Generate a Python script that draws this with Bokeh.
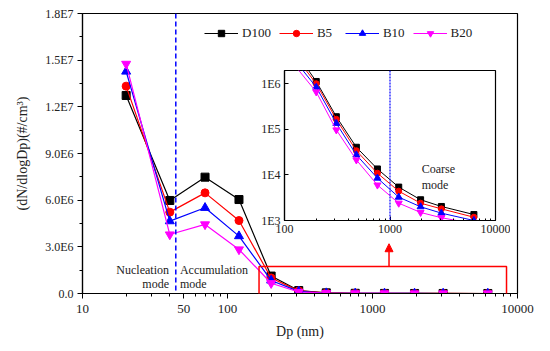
from bokeh.plotting import figure
from bokeh.layouts import column
from bokeh.models import (FixedTicker, Span, BoxAnnotation, Arrow, NormalHead,
                          Label, GridBox)
from bokeh.embed import file_html
from bokeh.resources import INLINE

# ---------------- data ----------------
dp = [20, 40, 70, 120, 200, 310, 480, 760, 1210, 1950, 3070, 6240]
d100 = [1.273e7, 5.98e6, 7.48e6, 6.04e6, 1.12e6, 1.89e5, 4.04e4, 1.35e4, 5.4e3, 2.85e3, 2.03e3, 1.35e3]
b5 = [1.333e7, 5.23e6, 6.47e6, 4.69e6, 1.0e6, 1.66e5, 3.4e4, 1.09e4, 4.4e3, 2.4e3, 1.8e3, 1.18e3]
b10 = [1.427e7, 4.65e6, 5.51e6, 3.69e6, 8.4e5, 1.35e5, 2.75e4, 8.5e3, 3.25e3, 2.0e3, 1.45e3, 1.0e3]
b20 = [1.476e7, 3.79e6, 4.44e6, 2.83e6, 6.6e5, 9.7e4, 2.13e4, 6.0e3, 2.4e3, 1.5e3, 1.15e3, 8.5e2]

names = ["D100", "B5", "B10", "B20"]
values = [d100, b5, b10, b20]
colors = ["#000000", "#ff0000", "#0000ff", "#ff00ff"]
markers = ["square", "circle", "triangle", "inverted_triangle"]
msizes = [8, 8, 9, 9]
inset_msizes = [6, 6, 7, 7]

x_ticks = [10, 50, 100, 1000, 10000]
x_tick_labels = ["10", "50", "100", "1000", "10000"]
y_ticks = [0, 3000000, 6000000, 9000000, 12000000, 15000000, 18000000]
y_tick_labels = ["0.0", "3.0E6", "6.0E6", "9.0E6", "1.2E7", "1.5E7", "1.8E7"]
y_minor = [1500000, 4500000, 7500000, 10500000, 13500000, 16500000]
x_minor = [m * 10 ** e for e in (1, 2, 3) for m in range(2, 10)]

inset_x_ticks = [100, 1000, 10000]
inset_x_labels = ["100", "1000", "10000"]
inset_x_minor = [m * 10 ** e for e in (2, 3) for m in range(2, 10)]
inset_y_ticks = [1000, 10000, 100000, 1000000]
inset_y_labels = ["1E3", "1E4", "1E5", "1E6"]

mode_boundary = 44
coarse_boundary = 1000

FONT = "Liberation Serif"
TXT = "#222222"

# ---------------- main figure ----------------
p = figure(width=550, height=351, x_axis_type="log", x_range=(10, 10000),
           y_range=(0, 1.8e7), output_backend="svg", toolbar_location=None,
           min_border_left=82, min_border_right=33, min_border_top=13,
           min_border_bottom=58)
p.grid.visible = False
p.outline_line_color = "black"
p.outline_line_width = 1.2

p.xaxis.ticker = FixedTicker(ticks=x_ticks, minor_ticks=x_minor)
p.xaxis.major_label_overrides = dict(zip(x_ticks, x_tick_labels))
p.yaxis.ticker = FixedTicker(ticks=y_ticks, minor_ticks=y_minor)
p.yaxis.major_label_overrides = dict(zip(y_ticks, y_tick_labels))

for ax in (p.xaxis, p.yaxis):
    ax.axis_line_color = "black"
    ax.axis_line_width = 1.2
    ax.major_tick_line_color = "black"
    ax.minor_tick_line_color = "black"
    ax.major_tick_in = 0
    ax.major_tick_out = 5
    ax.minor_tick_in = 0
    ax.minor_tick_out = 3
    ax.major_label_text_font = FONT
    ax.major_label_text_color = TXT
    ax.axis_label_text_font = FONT
    ax.axis_label_text_font_style = "normal"
    ax.axis_label_text_color = TXT
    ax.axis_label_text_font_size = "14px"

p.xaxis.major_label_text_font_size = "13px"
p.yaxis.major_label_text_font_size = "12px"
p.xaxis.major_label_standoff = 6
p.yaxis.major_label_standoff = 4
p.xaxis.axis_label = "Dp (nm)"
p.yaxis.axis_label = "(dN/dlogDp)(#/cm\u00b3)"
p.xaxis.axis_label_standoff = 8
p.yaxis.axis_label_standoff = 12

for name, vals, col, mk, ms in zip(names, values, colors, markers, msizes):
    p.line(dp, vals, line_color=col, line_width=1.2, legend_label=name)
    p.scatter(dp, vals, marker=mk, size=ms, fill_color=col, line_color=col,
              legend_label=name)

lg = p.legend[0]
lg.orientation = "horizontal"
lg.location = (122, 252)
lg.margin = 0
lg.padding = 2
lg.border_line_color = None
lg.background_fill_alpha = 0
lg.label_text_font = FONT
lg.label_text_font_size = "13px"
lg.label_text_color = TXT
lg.glyph_width = 34
lg.glyph_height = 16
lg.label_height = 16
lg.label_standoff = 4
lg.spacing = 8

p.add_layout(Span(location=mode_boundary, dimension="height", line_color="#0000ff",
                  line_dash="5 3", line_width=1.5))

for txt, x, y, align in [("Nucleation", 39.5, 1.54e6, "right"),
                         ("mode", 39.5, 5.8e5, "right"),
                         ("Accumulation", 47, 1.54e6, "left"),
                         ("mode", 47, 5.8e5, "left")]:
    p.add_layout(Label(x=x, y=y, text=txt, text_align=align, text_baseline="middle",
                       text_font=FONT, text_font_size="12px", text_color=TXT))

p.add_layout(BoxAnnotation(left=165, right=8400, bottom=-4.5e5, top=1.74e6,
                           fill_alpha=0, line_color="#ff0000", line_alpha=1.0,
                           line_width=1.5))
p.add_layout(Arrow(end=NormalHead(size=8, fill_color="#ff0000", line_color="#ff0000"),
                   x_start=1300, y_start=1.74e6, x_end=1300, y_end=3.2e6,
                   line_color="#ff0000", line_width=1.5))

# ---------------- inset ----------------
ins = figure(width=256, height=175, x_axis_type="log", y_axis_type="log",
             x_range=(100, 10000), y_range=(1e3, 1.95e6), output_backend="svg",
             toolbar_location=None, min_border_left=30, min_border_right=15,
             min_border_top=5, min_border_bottom=20,
             border_fill_alpha=0, background_fill_alpha=0)
ins.grid.visible = False
ins.outline_line_color = "black"
ins.outline_line_width = 1.2
ins.xaxis.ticker = FixedTicker(ticks=inset_x_ticks, minor_ticks=inset_x_minor)
ins.xaxis.major_label_overrides = dict(zip(inset_x_ticks, inset_x_labels))
ins.yaxis.ticker = FixedTicker(ticks=inset_y_ticks, minor_ticks=[])
ins.yaxis.major_label_overrides = dict(zip(inset_y_ticks, inset_y_labels))
for ax in (ins.xaxis, ins.yaxis):
    ax.axis_line_color = "black"
    ax.axis_line_width = 1.2
    ax.major_tick_line_color = "black"
    ax.minor_tick_line_color = "black"
    ax.major_tick_in = 4
    ax.major_tick_out = 0
    ax.minor_tick_in = 2
    ax.minor_tick_out = 0
    ax.major_label_text_font = FONT
    ax.major_label_text_font_size = "12px"
    ax.major_label_text_color = TXT
    ax.major_label_standoff = 4

for name, vals, col, mk, ms in zip(names, values, colors, markers, inset_msizes):
    ins.line(dp, vals, line_color=col, line_width=1.0)
    ins.scatter(dp, vals, marker=mk, size=ms, fill_color=col, line_color=col)

ins.add_layout(Span(location=coarse_boundary, dimension="height", line_color="#0000ff",
                    line_dash="2 1", line_width=1.2))
for txt, y in [("Coarse", 1.38e4), ("mode", 5.9e3)]:
    ins.add_layout(Label(x=2000, y=y, text=txt, text_align="left", text_baseline="middle",
                         text_font=FONT, text_font_size="12px", text_color=TXT))

layout = GridBox(children=[(column(p), 0, 0, 3, 3), (column(ins), 1, 1, 1, 1)],
                 rows=["65px", "175px", "111px"], cols=["254px", "256px", "40px"])

open("out.html", "w").write(file_html(layout, INLINE))
